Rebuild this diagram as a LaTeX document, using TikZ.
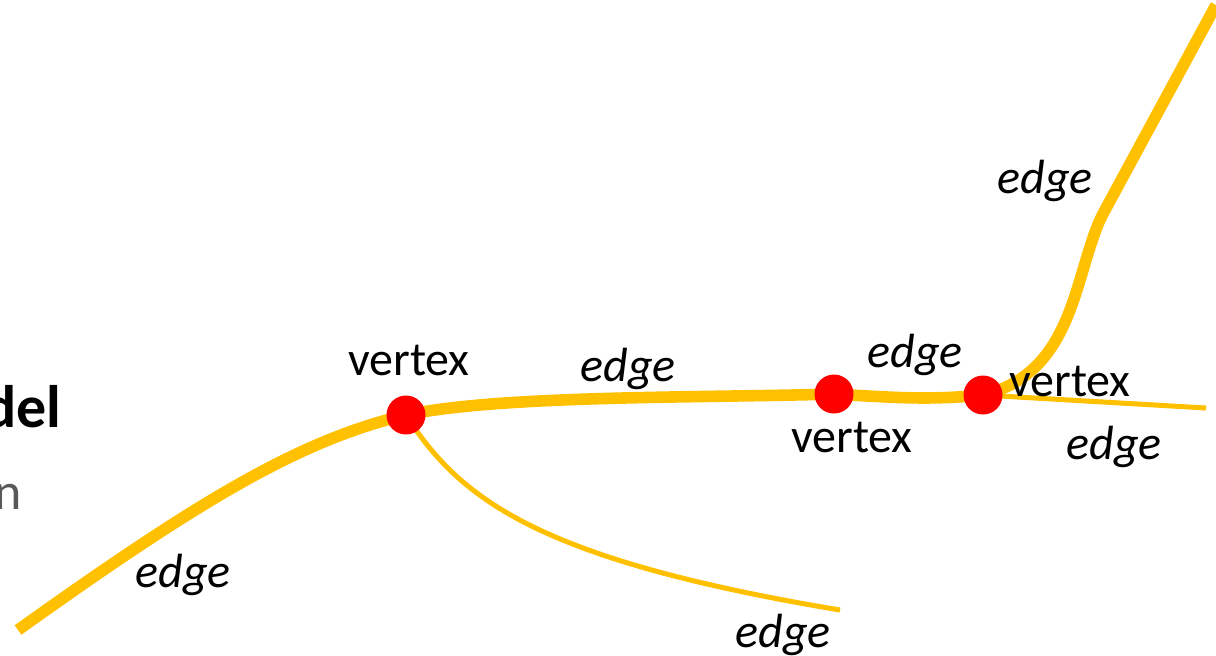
\documentclass[tikz,border=0pt]{standalone}
\usepackage{fontspec}
\setmainfont{Carlito}
\definecolor{edgeyellow}{RGB}{255,192,0}
\definecolor{vertexred}{RGB}{255,0,0}
\definecolor{textgrey}{RGB}{89,89,89}
\tikzset{
  vertex/.style={circle, fill=vertexred, inner sep=0pt, minimum size=19.5pt},
  thickedge/.style={draw=edgeyellow, line width=5.8pt},
  thinedge/.style={draw=edgeyellow, line width=2.5pt},
  lbl/.style={font=\fontsize{24}{28}\selectfont, inner sep=0pt},
  elbl/.style={lbl, font=\fontsize{24}{28}\selectfont\itshape}
}
\begin{document}
\begin{tikzpicture}[x=0.5pt, y=-0.5pt]
\useasboundingbox (0,0) rectangle (1216,655);
% ends and junctions
\coordinate (a) at (18,630);
\coordinate (b) at (840,610);
\coordinate (c) at (1206,408);
\coordinate (d) at (1216,5);
\coordinate (p1) at (406,415);
\coordinate (p2) at (834,394);
\coordinate (p3) at (983,395);
% edges
\draw[thickedge] (a) .. controls (200,500) and (300,440) .. (p1);
\draw[thickedge] (p1) .. controls (500,395) and (700,398) .. (p2);
\draw[thickedge] (p2) .. controls (900,398) and (930,400) .. (p3);
\draw[thickedge] (p3) .. controls (1045,380) and (1065,330) .. (1080,280)
  .. controls (1090,247) and (1095,228) .. (1105,210) -- (d);
\draw[thinedge] (p3) -- (c);
\draw[thinedge] (p1) .. controls (460,500) and (540,560) .. (b);
% vertices
\node[vertex] (v1) at (p1) {};
\node[vertex] (v2) at (p2) {};
\node[vertex] (v3) at (p3) {};
% labels
\node[lbl] (l1) at (409,360) {vertex};
\node[lbl] (l2) at (852,437) {vertex};
\node[lbl] (l3) at (1070,381) {vertex};
\node[elbl] (e1) at (628,369) {edge};
\node[elbl] (e2) at (915,355) {edge};
\node[elbl] (e3) at (1114,447) {edge};
\node[elbl] (e4) at (1045,181) {edge};
\node[elbl] (e5) at (183,575) {edge};
\node[elbl] (e6) at (783,635) {edge};
\node[lbl, anchor=east, font=\fontsize{30}{36}\selectfont\bfseries] (t1) at (62,407) {del};
\node[lbl, anchor=east, text=textgrey, font=\fontsize{26}{30}\selectfont] (t2) at (22,497) {n};
\end{tikzpicture}
\end{document}
